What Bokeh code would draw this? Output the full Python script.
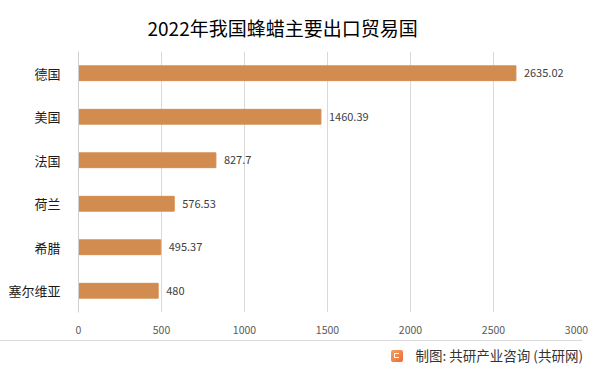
from bokeh.plotting import figure
from bokeh.layouts import column
from bokeh.models import FactorRange, Range1d, ColumnDataSource, FixedTicker, Div
from bokeh.embed import file_html
from bokeh.resources import INLINE
from bokeh.core.properties import value

countries = ["德国", "美国", "法国", "荷兰", "希腊", "塞尔维亚"]
values = [2635.02, 1460.39, 827.7, 576.53, 495.37, 480]
value_labels = ["2635.02", "1460.39", "827.7", "576.53", "495.37", "480"]
x_ticks = [0, 500, 1000, 1500, 2000, 2500, 3000]
title_text = "2022年我国蜂蜡主要出口贸易国"
footer_text = "制图: 共研产业咨询 (共研网)"

FONT = "Noto Sans CJK SC"
W = 591
H1, H2 = 338, 27

src = ColumnDataSource(dict(c=countries, v=values, lab=value_labels))

p = figure(width=W, height=H1, output_backend="svg", toolbar_location=None,
           y_range=FactorRange(*reversed(countries)), x_range=Range1d(0, 3000),
           min_border_left=78, min_border_right=15, min_border_top=50, min_border_bottom=26)
p.outline_line_color = None
p.background_fill_color = "white"
p.border_fill_color = "white"

p.title.text = title_text
p.title.text_font = FONT
p.title.text_font_size = "19px"
p.title.text_font_style = "normal"
p.title.text_color = "#000000"
p.title.align = "left"
p.title.offset = 69
p.title.standoff = 22

p.hbar(y="c", right="v", left=0, height=0.34, source=src, color="#D38C4F")
p.text(x="v", y="c", text="lab", source=src, x_offset=8, text_baseline="middle",
       text_font=value(FONT), text_font_size="11px", text_color="#404040")

p.xaxis.ticker = FixedTicker(ticks=x_ticks)
p.xaxis.axis_line_color = None
p.xaxis.major_tick_line_color = None
p.xaxis.minor_tick_line_color = None
p.xaxis.major_label_text_font = FONT
p.xaxis.major_label_text_font_size = "10.5px"
p.xaxis.major_label_text_color = "#595959"
p.xaxis.major_label_standoff = 7

p.yaxis.axis_line_color = "#d0d0d0"
p.yaxis.major_tick_line_color = None
p.yaxis.minor_tick_line_color = None
p.yaxis.major_label_text_font = FONT
p.yaxis.major_label_text_font_size = "13px"
p.yaxis.major_label_text_color = "#1a1a1a"
p.yaxis.major_label_standoff = 12

p.xgrid.grid_line_color = "#d9d9d9"
p.ygrid.grid_line_color = None

# footer: separator line, logo mark and credit text
footer_html = (
    f'<div style="position:relative;width:{W}px;height:{H2}px;font-family:\'{FONT}\';">'
    '<div style="position:absolute;left:0;top:2px;width:582px;height:1px;background:#d9d9d9;"></div>'
    '<div style="position:absolute;left:391px;top:12px;width:12px;height:12px;border-radius:2px;'
    'background:linear-gradient(135deg,#F5A25A,#EE6A3A);">'
    '<div style="position:absolute;left:3px;top:3px;width:5px;height:5px;'
    'border:1.5px solid white;border-right:none;"></div></div>'
    '<div style="position:absolute;right:8px;top:7px;line-height:20px;font-size:13.5px;'
    f'color:#333333;white-space:nowrap;">{footer_text}</div>'
    '</div>'
)
footer = Div(text=footer_html, width=W, height=H2, margin=0)

layout = column(p, footer, spacing=0)
open("out.html", "w").write(file_html(layout, INLINE))
